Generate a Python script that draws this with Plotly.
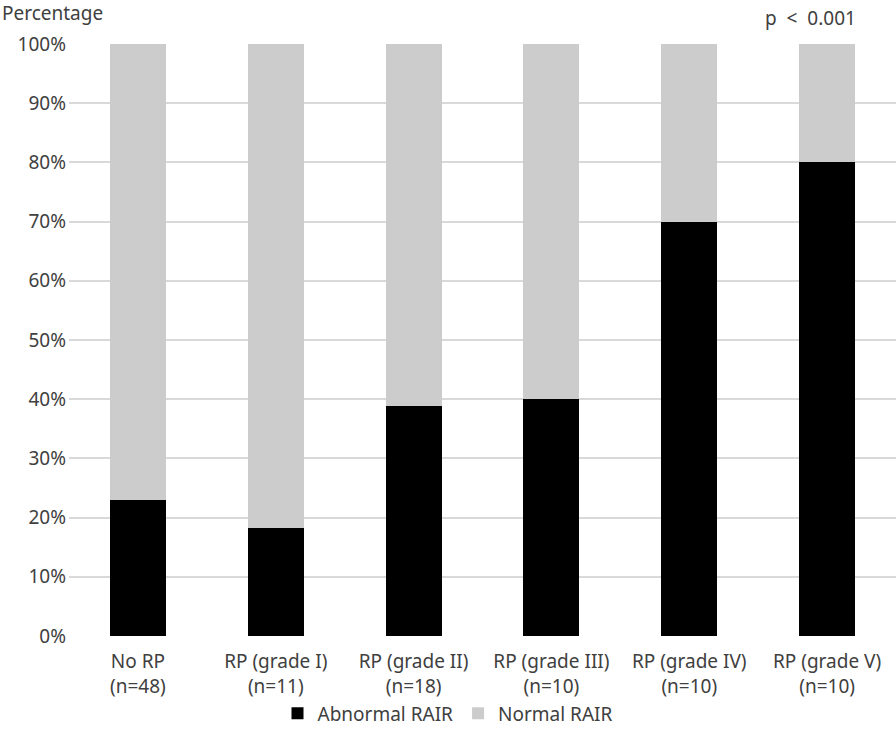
import plotly.graph_objects as go

categories = ["No RP<br>(n=48)", "RP (grade I)<br>(n=11)", "RP (grade II)<br>(n=18)",
              "RP (grade III)<br>(n=10)", "RP (grade IV)<br>(n=10)", "RP (grade V)<br>(n=10)"]
abnormal = [23, 18.2, 38.9, 40, 70, 80]
normal = [100 - v for v in abnormal]
ytick_vals = [0, 10, 20, 30, 40, 50, 60, 70, 80, 90, 100]
ytick_text = [f"{v}%" for v in ytick_vals]

FONT = "Noto Sans, Open Sans, sans-serif"
TXT = "#404040"
FS = 19

fig = go.Figure()
fig.add_trace(go.Bar(x=categories, y=abnormal, name="Abnormal RAIR",
                     marker=dict(color="#000000", line=dict(width=0))))
fig.add_trace(go.Bar(x=categories, y=normal, name="Normal RAIR",
                     marker=dict(color="#cccccc", line=dict(width=0))))

fig.update_layout(
    barmode="stack",
    bargap=0.594,
    width=896, height=740,
    margin=dict(l=69, r=0, t=44, b=104, autoexpand=False),
    paper_bgcolor="white", plot_bgcolor="white",
    font=dict(family=FONT, size=FS, color=TXT),
    legend=dict(orientation="h", xref="container", yref="container",
                x=0.5, xanchor="center", y=0.036, yanchor="middle",
                bgcolor="rgba(0,0,0,0)",
                font=dict(size=FS, color=TXT), traceorder="normal",
                itemwidth=30),
    xaxis=dict(showgrid=False, showline=False, ticks="", automargin=False,
               ticklabelstandoff=12,
               tickfont=dict(size=FS, color=TXT)),
    yaxis=dict(range=[0, 100], tickvals=ytick_vals, ticktext=ytick_text,
               showgrid=True, gridcolor="#d9d9d9", gridwidth=1.5, automargin=False,
               zeroline=False, showline=False, ticks="", ticklabelstandoff=2,
               tickfont=dict(size=FS, color=TXT)),
    annotations=[
        dict(text="Percentage", xref="paper", yref="paper", x=-69/827, y=1 + 31/592,
             xanchor="left", yanchor="middle", showarrow=False,
             font=dict(size=FS, color=TXT)),
        dict(text="p  <  0.001", xref="paper", yref="paper", x=(858-69)/827, y=1 + 26/592,
             xanchor="right", yanchor="middle", showarrow=False,
             font=dict(size=FS, color=TXT)),
    ],
)
fig.write_html("out.html", config={"displayModeBar": False},
               post_script="document.body.style.margin='0';document.body.style.padding='0';")
